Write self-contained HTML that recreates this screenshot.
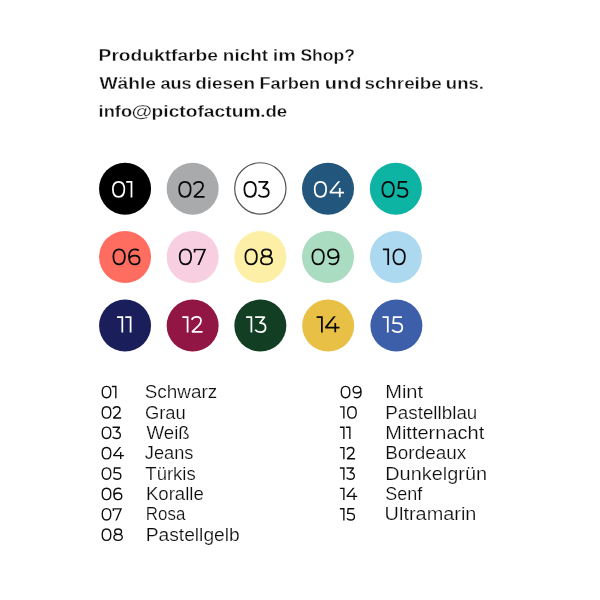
<!DOCTYPE html>
<html><head><meta charset="utf-8"><title>Farben</title>
<style>
html,body{margin:0;padding:0;background:#fff;}
body{width:600px;height:600px;overflow:hidden;font-family:"Liberation Sans",sans-serif;}
svg{display:block;}
text{font-family:"Liberation Sans",sans-serif;}
g.t{opacity:0.999;}
svg{will-change:transform;}
</style></head><body>
<svg width="600" height="600" viewBox="0 0 600 600">
<defs><clipPath id="cq"><rect x="-20" y="-100" width="140" height="100"/></clipPath></defs>
<rect width="600" height="600" fill="#ffffff"/>
<g class="t">
<text transform="translate(98.60,61.30) scale(1.1033,1)" font-size="17.4" fill="#111" font-weight="bold" stroke="#fff" stroke-width="0.3">Produktfarbe</text>
<text transform="translate(222.87,61.30) scale(1.0862,1)" font-size="17.4" fill="#111" font-weight="bold" stroke="#fff" stroke-width="0.3">nicht</text>
<text transform="translate(272.75,61.30) scale(1.1435,1)" font-size="17.4" fill="#111" font-weight="bold" stroke="#fff" stroke-width="0.3">im</text>
<text transform="translate(300.39,61.30) scale(1.0084,1)" font-size="17.4" fill="#111" font-weight="bold" stroke="#fff" stroke-width="0.3">Shop?</text>
<text transform="translate(99.39,89.10) scale(1.1053,1)" font-size="17.4" fill="#111" font-weight="bold" stroke="#fff" stroke-width="0.3">Wähle</text>
<text transform="translate(160.43,89.10) scale(1.0428,1)" font-size="17.4" fill="#111" font-weight="bold" stroke="#fff" stroke-width="0.3">aus</text>
<text transform="translate(195.14,89.10) scale(1.0887,1)" font-size="17.4" fill="#111" font-weight="bold" stroke="#fff" stroke-width="0.3">diesen</text>
<text transform="translate(259.49,89.10) scale(1.0463,1)" font-size="17.4" fill="#111" font-weight="bold" stroke="#fff" stroke-width="0.3">Farben</text>
<text transform="translate(324.72,89.10) scale(1.1498,1)" font-size="17.4" fill="#111" font-weight="bold" stroke="#fff" stroke-width="0.3">und</text>
<text transform="translate(364.42,89.10) scale(1.0816,1)" font-size="17.4" fill="#111" font-weight="bold" stroke="#fff" stroke-width="0.3">schreibe</text>
<text transform="translate(445.86,89.10) scale(1.0674,1)" font-size="17.4" fill="#111" font-weight="bold" stroke="#fff" stroke-width="0.3">uns.</text>
<text transform="translate(98.58,117.00) scale(1.0522,1)" font-size="17.4" fill="#111" font-weight="bold" stroke="#fff" stroke-width="0.3">info</text>
<text transform="translate(131.51,117.00) scale(1.2210,1)" font-size="17.4" fill="#111" font-weight="bold" stroke="#fff" stroke-width="0.3">@</text>
<text transform="translate(151.55,117.00) scale(1.1052,1)" font-size="17.4" fill="#111" font-weight="bold" stroke="#fff" stroke-width="0.3">pictofactum</text>
<text transform="translate(260.23,117.00) scale(1.0702,1)" font-size="17.4" fill="#111" font-weight="bold" stroke="#fff" stroke-width="0.3">.de</text>
</g>
<g>
<circle cx="125.05" cy="188.65" r="26" fill="#000000"/>
<path transform="translate(112.20,197.50) scale(0.1630)" d="M4.30,-50.00 C4.30,-78.36 17.99,-96.50 39.40,-96.50 C60.81,-96.50 74.50,-78.36 74.50,-50.00 C74.50,-21.64 60.81,-3.50 39.40,-3.50 C17.99,-3.50 4.30,-21.64 4.30,-50.00Z" fill="none" stroke="#fff" stroke-width="10.74" stroke-miterlimit="2.2"/>
<path transform="translate(126.20,197.50) scale(0.1630)" d="M0,-95.7 H32.5 V0" fill="none" stroke="#fff" stroke-width="10.74" stroke-miterlimit="2.2"/>
<circle cx="192.65" cy="188.65" r="26" fill="#a9aaac"/>
<path transform="translate(178.50,197.50) scale(0.1630)" d="M4.30,-50.00 C4.30,-78.36 17.99,-96.50 39.40,-96.50 C60.81,-96.50 74.50,-78.36 74.50,-50.00 C74.50,-21.64 60.81,-3.50 39.40,-3.50 C17.99,-3.50 4.30,-21.64 4.30,-50.00Z" fill="none" stroke="#0a0a0a" stroke-width="10.74" stroke-miterlimit="2.2"/>
<path transform="translate(193.00,197.50) scale(0.1630)" d="M4,-79 C10,-90 21,-96.5 35,-96.5 C51,-96.5 61.5,-87 61.5,-72 C61.5,-61 56,-52 45,-41 L6.5,-4.3 H71" fill="none" stroke="#0a0a0a" stroke-width="10.74" stroke-miterlimit="2.2"/>
<circle cx="260.35" cy="188.4" r="25.65" fill="#fff" stroke="#555" stroke-width="1.2"/>
<path transform="translate(243.70,197.50) scale(0.1630)" d="M4.30,-50.00 C4.30,-78.36 17.99,-96.50 39.40,-96.50 C60.81,-96.50 74.50,-78.36 74.50,-50.00 C74.50,-21.64 60.81,-3.50 39.40,-3.50 C17.99,-3.50 4.30,-21.64 4.30,-50.00Z" fill="none" stroke="#0a0a0a" stroke-width="10.74" stroke-miterlimit="2.2"/>
<path transform="translate(258.00,197.50) scale(0.1630)" d="M2,-95.7 H60.5 L30,-57.5 H35 C54,-57.5 66,-47 66,-30.5 C66,-14 53,-3.5 34,-3.5 C20,-3.5 8.5,-9 2.5,-17" fill="none" stroke="#0a0a0a" stroke-width="10.74" stroke-miterlimit="2.2"/>
<circle cx="328.00" cy="188.65" r="26" fill="#22567d"/>
<path transform="translate(314.00,197.50) scale(0.1630)" d="M4.30,-50.00 C4.30,-78.36 17.99,-96.50 39.40,-96.50 C60.81,-96.50 74.50,-78.36 74.50,-50.00 C74.50,-21.64 60.81,-3.50 39.40,-3.50 C17.99,-3.50 4.30,-21.64 4.30,-50.00Z" fill="none" stroke="#fff" stroke-width="10.74" stroke-miterlimit="2.2"/>
<path transform="translate(329.00,197.50) scale(0.1630)" d="M66,-105 L6.5,-30.5 H92 M66,-59 V0" fill="none" stroke="#fff" stroke-width="10.74" stroke-miterlimit="2.2" clip-path="url(#cq)"/>
<circle cx="395.85" cy="188.65" r="26" fill="#0db3a3"/>
<path transform="translate(381.70,197.50) scale(0.1630)" d="M4.30,-50.00 C4.30,-78.36 17.99,-96.50 39.40,-96.50 C60.81,-96.50 74.50,-78.36 74.50,-50.00 C74.50,-21.64 60.81,-3.50 39.40,-3.50 C17.99,-3.50 4.30,-21.64 4.30,-50.00Z" fill="none" stroke="#0a0a0a" stroke-width="10.74" stroke-miterlimit="2.2"/>
<path transform="translate(397.00,197.50) scale(0.1630)" d="M62,-95.7 H12.2 L8.8,-57.5 H31 C52,-57.5 64.2,-47 64.2,-30.5 C64.2,-14 52,-3.5 33,-3.5 C19,-3.5 8,-9 2.5,-17" fill="none" stroke="#0a0a0a" stroke-width="10.74" stroke-miterlimit="2.2"/>
<circle cx="125.05" cy="257.0" r="26" fill="#ff6c60"/>
<path transform="translate(112.70,265.00) scale(0.1630)" d="M4.30,-50.00 C4.30,-78.36 17.99,-96.50 39.40,-96.50 C60.81,-96.50 74.50,-78.36 74.50,-50.00 C74.50,-21.64 60.81,-3.50 39.40,-3.50 C17.99,-3.50 4.30,-21.64 4.30,-50.00Z" fill="none" stroke="#0a0a0a" stroke-width="10.74" stroke-miterlimit="2.2"/>
<path transform="translate(128.30,265.00) scale(0.1630)" d="M64,-88.5 C57,-93.5 49,-96.5 40,-96.5 C17,-96.5 4.3,-79 4.3,-50 C4.3,-20 17,-3.5 38.5,-3.5 C57,-3.5 69.5,-14 69.5,-30.5 C69.5,-47 57,-57.5 39.5,-57.5 C21,-57.5 7.5,-49 6,-34" fill="none" stroke="#0a0a0a" stroke-width="10.74" stroke-miterlimit="2.2"/>
<circle cx="192.65" cy="257.0" r="26" fill="#f8cfe0"/>
<path transform="translate(179.00,265.00) scale(0.1630)" d="M4.30,-50.00 C4.30,-78.36 17.99,-96.50 39.40,-96.50 C60.81,-96.50 74.50,-78.36 74.50,-50.00 C74.50,-21.64 60.81,-3.50 39.40,-3.50 C17.99,-3.50 4.30,-21.64 4.30,-50.00Z" fill="none" stroke="#0a0a0a" stroke-width="10.74" stroke-miterlimit="2.2"/>
<path transform="translate(193.90,265.00) scale(0.1630)" d="M4.3,-77 V-95.7 H68.3 L25.37,5" fill="none" stroke="#0a0a0a" stroke-width="10.74" stroke-miterlimit="2.2" clip-path="url(#cq)"/>
<circle cx="260.35" cy="257.0" r="26" fill="#fdf0a6"/>
<path transform="translate(244.70,265.00) scale(0.1630)" d="M4.30,-50.00 C4.30,-78.36 17.99,-96.50 39.40,-96.50 C60.81,-96.50 74.50,-78.36 74.50,-50.00 C74.50,-21.64 60.81,-3.50 39.40,-3.50 C17.99,-3.50 4.30,-21.64 4.30,-50.00Z" fill="none" stroke="#0a0a0a" stroke-width="10.74" stroke-miterlimit="2.2"/>
<path transform="translate(260.20,265.00) scale(0.1630)" d="M10.60,-74.60 C10.60,-87.80 21.88,-96.60 38.80,-96.60 C55.72,-96.60 67.00,-87.80 67.00,-74.60 C67.00,-61.40 55.72,-52.60 38.80,-52.60 C21.88,-52.60 10.60,-61.40 10.60,-74.60Z M4.30,-28.00 C4.30,-42.76 18.10,-52.60 38.80,-52.60 C59.50,-52.60 73.30,-42.76 73.30,-28.00 C73.30,-13.24 59.50,-3.40 38.80,-3.40 C18.10,-3.40 4.30,-13.24 4.30,-28.00Z" fill="none" stroke="#0a0a0a" stroke-width="10.74" stroke-miterlimit="2.2"/>
<circle cx="328.00" cy="257.0" r="26" fill="#a9dcc0"/>
<path transform="translate(311.70,265.00) scale(0.1630)" d="M4.30,-50.00 C4.30,-78.36 17.99,-96.50 39.40,-96.50 C60.81,-96.50 74.50,-78.36 74.50,-50.00 C74.50,-21.64 60.81,-3.50 39.40,-3.50 C17.99,-3.50 4.30,-21.64 4.30,-50.00Z" fill="none" stroke="#0a0a0a" stroke-width="10.74" stroke-miterlimit="2.2"/>
<path transform="translate(327.30,265.00) scale(0.1630)" d="M9.80,-11.50 C16.80,-6.50 24.80,-3.50 33.80,-3.50 C56.80,-3.50 69.50,-21.00 69.50,-50.00 C69.50,-80.00 56.80,-96.50 35.30,-96.50 C16.80,-96.50 4.30,-86.00 4.30,-69.50 C4.30,-53.00 16.80,-42.50 34.30,-42.50 C52.80,-42.50 66.30,-51.00 67.80,-66.00" fill="none" stroke="#0a0a0a" stroke-width="10.74" stroke-miterlimit="2.2"/>
<circle cx="395.85" cy="257.0" r="26" fill="#acd8f0"/>
<path transform="translate(382.90,265.00) scale(0.1630)" d="M0,-95.7 H32.5 V0" fill="none" stroke="#0a0a0a" stroke-width="10.74" stroke-miterlimit="2.2"/>
<path transform="translate(392.70,265.00) scale(0.1630)" d="M4.30,-50.00 C4.30,-78.36 17.99,-96.50 39.40,-96.50 C60.81,-96.50 74.50,-78.36 74.50,-50.00 C74.50,-21.64 60.81,-3.50 39.40,-3.50 C17.99,-3.50 4.30,-21.64 4.30,-50.00Z" fill="none" stroke="#0a0a0a" stroke-width="10.74" stroke-miterlimit="2.2"/>
<circle cx="125.05" cy="325.6" r="26" fill="#1a1f5c"/>
<path transform="translate(117.00,332.60) scale(0.1630)" d="M0,-95.7 H32.5 V0" fill="none" stroke="#fff" stroke-width="10.74" stroke-miterlimit="2.2"/>
<path transform="translate(125.30,332.60) scale(0.1630)" d="M0,-95.7 H32.5 V0" fill="none" stroke="#fff" stroke-width="10.74" stroke-miterlimit="2.2"/>
<circle cx="192.65" cy="325.6" r="26" fill="#921643"/>
<path transform="translate(182.30,332.60) scale(0.1630)" d="M0,-95.7 H32.5 V0" fill="none" stroke="#fff" stroke-width="10.74" stroke-miterlimit="2.2"/>
<path transform="translate(191.00,332.60) scale(0.1630)" d="M4,-79 C10,-90 21,-96.5 35,-96.5 C51,-96.5 61.5,-87 61.5,-72 C61.5,-61 56,-52 45,-41 L6.5,-4.3 H71" fill="none" stroke="#fff" stroke-width="10.74" stroke-miterlimit="2.2"/>
<circle cx="260.35" cy="325.6" r="26" fill="#123e24"/>
<path transform="translate(246.10,332.60) scale(0.1630)" d="M0,-95.7 H32.5 V0" fill="none" stroke="#fff" stroke-width="10.74" stroke-miterlimit="2.2"/>
<path transform="translate(254.80,332.60) scale(0.1630)" d="M2,-95.7 H60.5 L30,-57.5 H35 C54,-57.5 66,-47 66,-30.5 C66,-14 53,-3.5 34,-3.5 C20,-3.5 8.5,-9 2.5,-17" fill="none" stroke="#fff" stroke-width="10.74" stroke-miterlimit="2.2"/>
<circle cx="328.15" cy="325.6" r="26" fill="#e9c046"/>
<path transform="translate(316.60,332.60) scale(0.1630)" d="M0,-95.7 H32.5 V0" fill="none" stroke="#0a0a0a" stroke-width="10.74" stroke-miterlimit="2.2"/>
<path transform="translate(324.50,332.60) scale(0.1630)" d="M66,-105 L6.5,-30.5 H92 M66,-59 V0" fill="none" stroke="#0a0a0a" stroke-width="10.74" stroke-miterlimit="2.2" clip-path="url(#cq)"/>
<circle cx="396.40" cy="325.6" r="26" fill="#3d5fa9"/>
<path transform="translate(382.50,332.60) scale(0.1630)" d="M0,-95.7 H32.5 V0" fill="none" stroke="#fff" stroke-width="10.74" stroke-miterlimit="2.2"/>
<path transform="translate(391.80,332.60) scale(0.1630)" d="M62,-95.7 H12.2 L8.8,-57.5 H31 C52,-57.5 64.2,-47 64.2,-30.5 C64.2,-14 52,-3.5 33,-3.5 C19,-3.5 8,-9 2.5,-17" fill="none" stroke="#fff" stroke-width="10.74" stroke-miterlimit="2.2"/>
</g>
<g class="t">
<path transform="translate(101.70,398.20) scale(0.1220)" d="M4.30,-50.00 C4.30,-78.36 17.99,-96.50 39.40,-96.50 C60.81,-96.50 74.50,-78.36 74.50,-50.00 C74.50,-21.64 60.81,-3.50 39.40,-3.50 C17.99,-3.50 4.30,-21.64 4.30,-50.00Z" fill="none" stroke="#0d0d0d" stroke-width="11.07" stroke-miterlimit="2.2"/>
<path transform="translate(111.86,398.20) scale(0.1220)" d="M0,-95.7 H32.5 V0" fill="none" stroke="#0d0d0d" stroke-width="11.07" stroke-miterlimit="2.2"/>
<text transform="translate(144.70,398.20) scale(1.0678,1)" font-size="17.7" fill="#0d0d0d" stroke="#fff" stroke-width="0.2">Schwarz</text>
<path transform="translate(101.70,418.57) scale(0.1220)" d="M4.30,-50.00 C4.30,-78.36 17.99,-96.50 39.40,-96.50 C60.81,-96.50 74.50,-78.36 74.50,-50.00 C74.50,-21.64 60.81,-3.50 39.40,-3.50 C17.99,-3.50 4.30,-21.64 4.30,-50.00Z" fill="none" stroke="#0d0d0d" stroke-width="11.07" stroke-miterlimit="2.2"/>
<path transform="translate(112.53,418.57) scale(0.1220)" d="M4,-79 C10,-90 21,-96.5 35,-96.5 C51,-96.5 61.5,-87 61.5,-72 C61.5,-61 56,-52 45,-41 L6.5,-4.3 H71" fill="none" stroke="#0d0d0d" stroke-width="11.07" stroke-miterlimit="2.2"/>
<text transform="translate(144.91,418.57) scale(1.0382,1)" font-size="17.7" fill="#0d0d0d" stroke="#fff" stroke-width="0.2">Grau</text>
<path transform="translate(101.70,438.94) scale(0.1220)" d="M4.30,-50.00 C4.30,-78.36 17.99,-96.50 39.40,-96.50 C60.81,-96.50 74.50,-78.36 74.50,-50.00 C74.50,-21.64 60.81,-3.50 39.40,-3.50 C17.99,-3.50 4.30,-21.64 4.30,-50.00Z" fill="none" stroke="#0d0d0d" stroke-width="11.07" stroke-miterlimit="2.2"/>
<path transform="translate(112.29,438.94) scale(0.1220)" d="M2,-95.7 H60.5 L30,-57.5 H35 C54,-57.5 66,-47 66,-30.5 C66,-14 53,-3.5 34,-3.5 C20,-3.5 8.5,-9 2.5,-17" fill="none" stroke="#0d0d0d" stroke-width="11.07" stroke-miterlimit="2.2"/>
<text transform="translate(146.54,438.94) scale(1.0551,1)" font-size="17.7" fill="#0d0d0d" stroke="#fff" stroke-width="0.2">Weiß</text>
<path transform="translate(101.70,459.31) scale(0.1220)" d="M4.30,-50.00 C4.30,-78.36 17.99,-96.50 39.40,-96.50 C60.81,-96.50 74.50,-78.36 74.50,-50.00 C74.50,-21.64 60.81,-3.50 39.40,-3.50 C17.99,-3.50 4.30,-21.64 4.30,-50.00Z" fill="none" stroke="#0d0d0d" stroke-width="11.07" stroke-miterlimit="2.2"/>
<path transform="translate(112.66,459.31) scale(0.1220)" d="M66,-105 L6.5,-30.5 H92 M66,-59 V0" fill="none" stroke="#0d0d0d" stroke-width="11.07" stroke-miterlimit="2.2" clip-path="url(#cq)"/>
<text transform="translate(144.86,459.31) scale(1.0285,1)" font-size="17.7" fill="#0d0d0d" stroke="#fff" stroke-width="0.2">Jeans</text>
<path transform="translate(101.70,479.68) scale(0.1220)" d="M4.30,-50.00 C4.30,-78.36 17.99,-96.50 39.40,-96.50 C60.81,-96.50 74.50,-78.36 74.50,-50.00 C74.50,-21.64 60.81,-3.50 39.40,-3.50 C17.99,-3.50 4.30,-21.64 4.30,-50.00Z" fill="none" stroke="#0d0d0d" stroke-width="11.07" stroke-miterlimit="2.2"/>
<path transform="translate(113.02,479.68) scale(0.1220)" d="M62,-95.7 H12.2 L8.8,-57.5 H31 C52,-57.5 64.2,-47 64.2,-30.5 C64.2,-14 52,-3.5 33,-3.5 C19,-3.5 8,-9 2.5,-17" fill="none" stroke="#0d0d0d" stroke-width="11.07" stroke-miterlimit="2.2"/>
<text transform="translate(145.31,479.68) scale(1.0476,1)" font-size="17.7" fill="#0d0d0d" stroke="#fff" stroke-width="0.2">Türkis</text>
<path transform="translate(101.70,500.05) scale(0.1220)" d="M4.30,-50.00 C4.30,-78.36 17.99,-96.50 39.40,-96.50 C60.81,-96.50 74.50,-78.36 74.50,-50.00 C74.50,-21.64 60.81,-3.50 39.40,-3.50 C17.99,-3.50 4.30,-21.64 4.30,-50.00Z" fill="none" stroke="#0d0d0d" stroke-width="11.07" stroke-miterlimit="2.2"/>
<path transform="translate(113.31,500.05) scale(0.1220)" d="M64,-88.5 C57,-93.5 49,-96.5 40,-96.5 C17,-96.5 4.3,-79 4.3,-50 C4.3,-20 17,-3.5 38.5,-3.5 C57,-3.5 69.5,-14 69.5,-30.5 C69.5,-47 57,-57.5 39.5,-57.5 C21,-57.5 7.5,-49 6,-34" fill="none" stroke="#0d0d0d" stroke-width="11.07" stroke-miterlimit="2.2"/>
<text transform="translate(145.90,500.05) scale(1.0515,1)" font-size="17.7" fill="#0d0d0d" stroke="#fff" stroke-width="0.2">Koralle</text>
<path transform="translate(101.70,520.42) scale(0.1220)" d="M4.30,-50.00 C4.30,-78.36 17.99,-96.50 39.40,-96.50 C60.81,-96.50 74.50,-78.36 74.50,-50.00 C74.50,-21.64 60.81,-3.50 39.40,-3.50 C17.99,-3.50 4.30,-21.64 4.30,-50.00Z" fill="none" stroke="#0d0d0d" stroke-width="11.07" stroke-miterlimit="2.2"/>
<path transform="translate(112.78,520.42) scale(0.1220)" d="M4.3,-77 V-95.7 H68.3 L25.37,5" fill="none" stroke="#0d0d0d" stroke-width="11.07" stroke-miterlimit="2.2" clip-path="url(#cq)"/>
<text transform="translate(145.87,520.42) scale(0.9562,1)" font-size="17.7" fill="#0d0d0d" stroke="#fff" stroke-width="0.2">Rosa</text>
<path transform="translate(101.70,540.79) scale(0.1220)" d="M4.30,-50.00 C4.30,-78.36 17.99,-96.50 39.40,-96.50 C60.81,-96.50 74.50,-78.36 74.50,-50.00 C74.50,-21.64 60.81,-3.50 39.40,-3.50 C17.99,-3.50 4.30,-21.64 4.30,-50.00Z" fill="none" stroke="#0d0d0d" stroke-width="11.07" stroke-miterlimit="2.2"/>
<path transform="translate(113.36,540.79) scale(0.1220)" d="M10.60,-74.60 C10.60,-87.80 21.88,-96.60 38.80,-96.60 C55.72,-96.60 67.00,-87.80 67.00,-74.60 C67.00,-61.40 55.72,-52.60 38.80,-52.60 C21.88,-52.60 10.60,-61.40 10.60,-74.60Z M4.30,-28.00 C4.30,-42.76 18.10,-52.60 38.80,-52.60 C59.50,-52.60 73.30,-42.76 73.30,-28.00 C73.30,-13.24 59.50,-3.40 38.80,-3.40 C18.10,-3.40 4.30,-13.24 4.30,-28.00Z" fill="none" stroke="#0d0d0d" stroke-width="11.07" stroke-miterlimit="2.2"/>
<text transform="translate(145.68,540.79) scale(1.0874,1)" font-size="17.7" fill="#0d0d0d" stroke="#fff" stroke-width="0.2">Pastellgelb</text>
<path transform="translate(340.75,398.20) scale(0.1220)" d="M4.30,-50.00 C4.30,-78.36 17.99,-96.50 39.40,-96.50 C60.81,-96.50 74.50,-78.36 74.50,-50.00 C74.50,-21.64 60.81,-3.50 39.40,-3.50 C17.99,-3.50 4.30,-21.64 4.30,-50.00Z" fill="none" stroke="#0d0d0d" stroke-width="11.07" stroke-miterlimit="2.2"/>
<path transform="translate(352.61,398.20) scale(0.1220)" d="M9.80,-11.50 C16.80,-6.50 24.80,-3.50 33.80,-3.50 C56.80,-3.50 69.50,-21.00 69.50,-50.00 C69.50,-80.00 56.80,-96.50 35.30,-96.50 C16.80,-96.50 4.30,-86.00 4.30,-69.50 C4.30,-53.00 16.80,-42.50 34.30,-42.50 C52.80,-42.50 66.30,-51.00 67.80,-66.00" fill="none" stroke="#0d0d0d" stroke-width="11.07" stroke-miterlimit="2.2"/>
<text transform="translate(385.20,398.20) scale(1.1346,1)" font-size="17.7" fill="#0d0d0d" stroke="#fff" stroke-width="0.2">Mint</text>
<path transform="translate(339.90,418.57) scale(0.1220)" d="M0,-95.7 H32.5 V0" fill="none" stroke="#0d0d0d" stroke-width="11.07" stroke-miterlimit="2.2"/>
<path transform="translate(347.13,418.57) scale(0.1220)" d="M4.30,-50.00 C4.30,-78.36 17.99,-96.50 39.40,-96.50 C60.81,-96.50 74.50,-78.36 74.50,-50.00 C74.50,-21.64 60.81,-3.50 39.40,-3.50 C17.99,-3.50 4.30,-21.64 4.30,-50.00Z" fill="none" stroke="#0d0d0d" stroke-width="11.07" stroke-miterlimit="2.2"/>
<text transform="translate(385.23,418.57) scale(1.0640,1)" font-size="17.7" fill="#0d0d0d" stroke="#fff" stroke-width="0.2">Pastellblau</text>
<path transform="translate(339.90,438.94) scale(0.1220)" d="M0,-95.7 H32.5 V0" fill="none" stroke="#0d0d0d" stroke-width="11.07" stroke-miterlimit="2.2"/>
<path transform="translate(345.89,438.94) scale(0.1220)" d="M0,-95.7 H32.5 V0" fill="none" stroke="#0d0d0d" stroke-width="11.07" stroke-miterlimit="2.2"/>
<text transform="translate(385.22,438.94) scale(1.1316,1)" font-size="17.7" fill="#0d0d0d" stroke="#fff" stroke-width="0.2">Mitternacht</text>
<path transform="translate(339.90,459.31) scale(0.1220)" d="M0,-95.7 H32.5 V0" fill="none" stroke="#0d0d0d" stroke-width="11.07" stroke-miterlimit="2.2"/>
<path transform="translate(346.39,459.31) scale(0.1220)" d="M4,-79 C10,-90 21,-96.5 35,-96.5 C51,-96.5 61.5,-87 61.5,-72 C61.5,-61 56,-52 45,-41 L6.5,-4.3 H71" fill="none" stroke="#0d0d0d" stroke-width="11.07" stroke-miterlimit="2.2"/>
<text transform="translate(385.26,459.31) scale(1.0684,1)" font-size="17.7" fill="#0d0d0d" stroke="#fff" stroke-width="0.2">Bordeaux</text>
<path transform="translate(339.90,479.68) scale(0.1220)" d="M0,-95.7 H32.5 V0" fill="none" stroke="#0d0d0d" stroke-width="11.07" stroke-miterlimit="2.2"/>
<path transform="translate(346.26,479.68) scale(0.1220)" d="M2,-95.7 H60.5 L30,-57.5 H35 C54,-57.5 66,-47 66,-30.5 C66,-14 53,-3.5 34,-3.5 C20,-3.5 8.5,-9 2.5,-17" fill="none" stroke="#0d0d0d" stroke-width="11.07" stroke-miterlimit="2.2"/>
<text transform="translate(385.24,479.68) scale(1.1252,1)" font-size="17.7" fill="#0d0d0d" stroke="#fff" stroke-width="0.2">Dunkelgrün</text>
<path transform="translate(339.90,500.05) scale(0.1220)" d="M0,-95.7 H32.5 V0" fill="none" stroke="#0d0d0d" stroke-width="11.07" stroke-miterlimit="2.2"/>
<path transform="translate(346.04,500.05) scale(0.1220)" d="M66,-105 L6.5,-30.5 H92 M66,-59 V0" fill="none" stroke="#0d0d0d" stroke-width="11.07" stroke-miterlimit="2.2" clip-path="url(#cq)"/>
<text transform="translate(385.20,500.05) scale(1.0156,1)" font-size="17.7" fill="#0d0d0d" stroke="#fff" stroke-width="0.2">Senf</text>
<path transform="translate(339.90,520.42) scale(0.1220)" d="M0,-95.7 H32.5 V0" fill="none" stroke="#0d0d0d" stroke-width="11.07" stroke-miterlimit="2.2"/>
<path transform="translate(346.63,520.42) scale(0.1220)" d="M62,-95.7 H12.2 L8.8,-57.5 H31 C52,-57.5 64.2,-47 64.2,-30.5 C64.2,-14 52,-3.5 33,-3.5 C19,-3.5 8,-9 2.5,-17" fill="none" stroke="#0d0d0d" stroke-width="11.07" stroke-miterlimit="2.2"/>
<text transform="translate(384.62,520.42) scale(1.1244,1)" font-size="17.7" fill="#0d0d0d" stroke="#fff" stroke-width="0.2">Ultramarin</text>
</g>
</svg></body></html>
